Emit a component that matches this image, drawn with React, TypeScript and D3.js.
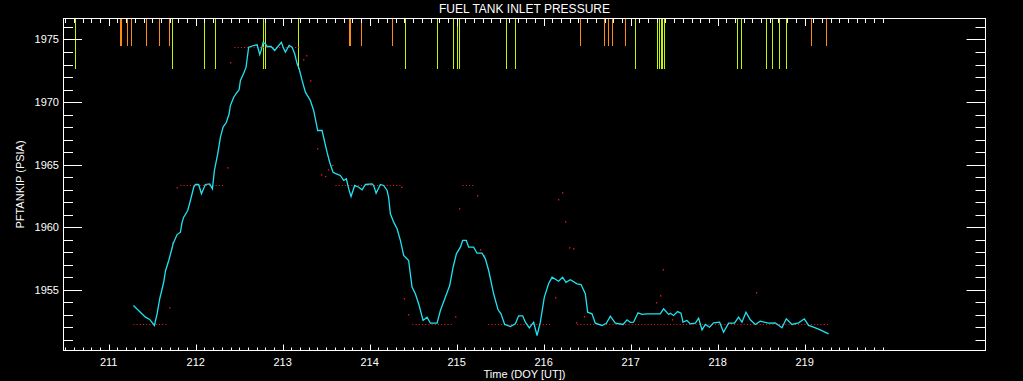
import React from "react";
import * as d3 from "d3";

// ---- data (day-of-year, psia) ----
const cyanSeries: [number, number][] = [
  [211.284, 1953.75], [211.422, 1952.82], [211.471, 1952.64], [211.525, 1952.16], [211.556, 1953.09],
  [211.586, 1954.29], [211.632, 1955.61], [211.652, 1956.49], [211.69, 1957.35], [211.721, 1958.15],
  [211.74, 1958.68], [211.786, 1959.42], [211.824, 1959.61], [211.844, 1960.41], [211.862, 1960.81],
  [211.908, 1961.34], [211.939, 1962.14], [211.977, 1963.2], [211.997, 1963.42], [212.034, 1963.42],
  [212.066, 1962.68], [212.111, 1963.42], [212.161, 1963.47], [212.192, 1963.07], [212.215, 1964.54],
  [212.23, 1965.07], [212.253, 1965.87], [212.284, 1967.2], [212.315, 1968.0], [212.353, 1968.39],
  [212.384, 1969.07], [212.399, 1969.73], [212.437, 1970.39], [212.476, 1970.79], [212.499, 1970.98],
  [212.514, 1971.73], [212.552, 1972.31], [212.579, 1972.79], [212.591, 1973.46], [212.609, 1974.38],
  [212.667, 1974.52], [212.706, 1974.58], [212.736, 1973.8], [212.752, 1974.12], [212.775, 1974.76],
  [212.801, 1974.66], [212.821, 1974.44], [212.867, 1974.44], [212.908, 1974.12], [212.985, 1974.78],
  [213.005, 1974.38], [213.031, 1973.99], [213.074, 1974.52], [213.108, 1974.38], [213.138, 1973.86],
  [213.166, 1973.06], [213.189, 1972.66], [213.223, 1971.73], [213.261, 1970.79], [213.318, 1970.13],
  [213.356, 1969.33], [213.387, 1968.27], [213.402, 1967.73], [213.453, 1967.73], [213.479, 1966.93],
  [213.51, 1966.0], [213.54, 1965.2], [213.579, 1964.4], [213.617, 1964.27], [213.663, 1964.14],
  [213.701, 1963.74], [213.732, 1963.87], [213.759, 1963.07], [213.786, 1962.46], [213.828, 1963.34],
  [213.874, 1963.2], [213.913, 1963.0], [213.951, 1963.42], [214.028, 1963.47], [214.046, 1963.34],
  [214.074, 1962.72], [214.123, 1963.42], [214.161, 1963.34], [214.2, 1962.94], [214.218, 1962.4],
  [214.238, 1961.08], [214.276, 1960.41], [214.315, 1959.88], [214.353, 1958.95], [214.391, 1957.75],
  [214.448, 1957.35], [214.487, 1955.22], [214.525, 1954.69], [214.563, 1953.89], [214.614, 1952.56],
  [214.66, 1952.82], [214.698, 1952.34], [214.775, 1952.34], [214.813, 1953.35], [214.87, 1954.42],
  [214.92, 1955.35], [214.959, 1956.81], [214.997, 1957.88], [215.043, 1958.41], [215.069, 1958.95],
  [215.111, 1958.95], [215.138, 1958.41], [215.195, 1958.41], [215.234, 1957.93], [215.292, 1957.93],
  [215.33, 1957.48], [215.368, 1956.55], [215.425, 1954.69], [215.476, 1953.41], [215.51, 1953.09],
  [215.552, 1952.24], [215.617, 1952.08], [215.675, 1952.29], [215.713, 1952.93], [215.759, 1952.93],
  [215.79, 1952.42], [215.836, 1951.97], [215.885, 1952.42], [215.924, 1951.36], [215.962, 1952.42],
  [216.008, 1954.42], [216.057, 1955.49], [216.097, 1956.01], [216.172, 1955.69], [216.218, 1956.01],
  [216.257, 1955.61], [216.307, 1955.81], [216.384, 1955.49], [216.43, 1955.43], [216.479, 1954.69],
  [216.506, 1953.22], [216.556, 1953.09], [216.594, 1952.34], [216.671, 1952.16], [216.721, 1952.34],
  [216.767, 1952.9], [216.824, 1952.34], [216.913, 1952.24], [216.959, 1952.61], [216.997, 1952.4],
  [217.034, 1952.42], [217.085, 1953.17], [217.131, 1953.04], [217.189, 1953.09], [217.341, 1953.09],
  [217.379, 1953.49], [217.437, 1953.04], [217.456, 1953.14], [217.494, 1952.96], [217.54, 1953.27],
  [217.579, 1953.14], [217.602, 1952.42], [217.648, 1952.56], [217.686, 1952.29], [217.744, 1952.34],
  [217.782, 1952.74], [217.821, 1951.81], [217.859, 1952.24], [217.908, 1952.02], [217.954, 1952.37],
  [218.023, 1952.42], [218.069, 1951.62], [218.126, 1952.34], [218.195, 1952.34], [218.241, 1952.82],
  [218.28, 1952.42], [218.326, 1953.22], [218.376, 1952.61], [218.433, 1952.24], [218.491, 1952.5],
  [218.586, 1952.34], [218.663, 1952.37], [218.74, 1951.97], [218.79, 1952.69], [218.855, 1952.24],
  [218.931, 1952.37], [218.997, 1952.69], [219.046, 1952.16], [219.103, 1952.02], [219.18, 1951.81],
  [219.276, 1951.49],
];

// quantized raw samples: runs of equal value [startDay, endDay, psia]
const redRuns: [number, number, number][] = [
  [211.284, 211.663, 1952.29],
  [214.491, 214.951, 1952.29],
  [215.364, 216.1, 1952.29],
  [216.387, 219.284, 1952.29],
  [211.824, 212.322, 1963.39],
  [213.606, 214.372, 1963.39],
  [215.069, 215.195, 1963.39],
  [212.445, 213.195, 1974.44],
];

const redDots: [number, number][] = [
  [211.701, 1953.57], [211.736, 1958.76], [211.786, 1963.15], [212.368, 1964.75], [212.402, 1973.14],
  [213.241, 1973.38], [213.276, 1973.7], [213.322, 1971.7], [213.402, 1966.27], [213.448, 1964.19],
  [213.494, 1964.06], [213.529, 1964.59], [213.575, 1964.94], [214.368, 1963.2], [214.399, 1954.29],
  [214.448, 1953.01], [214.989, 1952.85], [215.034, 1961.48], [215.241, 1962.52], [215.276, 1958.2],
  [215.322, 1957.72], [216.138, 1954.37], [216.172, 1962.2], [216.218, 1962.76], [216.253, 1960.44],
  [216.299, 1958.36], [216.345, 1958.28], [216.379, 1952.37], [216.471, 1952.85], [217.299, 1953.97],
  [217.345, 1954.53], [217.376, 1956.61], [217.483, 1952.61], [218.448, 1954.77],
];

const orangeEvents: number[] = [
  211.124, 211.136, 211.207, 211.253, 211.425, 211.575, 211.69,
  213.767, 213.779, 213.897, 214.253,
  216.414, 216.69, 216.736, 216.782, 216.931,
  219.069, 219.241,
];

const greenEvents: number[] = [
  210.609, 211.724, 212.092, 212.218, 212.77, 212.793, 213.177,
  214.402, 214.77, 214.954, 215.0, 215.023, 215.563, 215.667,
  217.046, 217.299, 217.322, 217.345, 217.356, 217.379,
  218.218, 218.264, 218.552, 218.621, 218.701, 218.782,
];

const xMajorTicks: number[] = [211, 212, 213, 214, 215, 216, 217, 218, 219];
const yMajorTicks: number[] = [1955, 1960, 1965, 1970, 1975];

const title = "FUEL TANK INLET PRESSURE";
const xTitle = "Time (DOY [UT])";
const yTitle = "PFTANKIP (PSIA)";

// ---- layout ----
const W = 1023;
const H = 381;
const L = 63.5, R = 985.5, T = 18.5, B = 350.5;
const FONT = "'Liberation Sans', Arial, sans-serif";

export default function App() {
  const x = d3.scaleLinear().domain([210.48, 221.08]).range([L, R]);
  const y = d3.scaleLinear().domain([1950.16, 1976.677]).range([B, T]);

  const xMinor = d3.range(2105, 2200).map((v) => v / 10);
  const yMinor = d3.range(1951, 1977);

  const line = d3
    .line<[number, number]>()
    .x((d) => x(d[0]))
    .y((d) => y(d[1]));

  const cyan = "#1fe3f2";
  const orange = "#ff8a10";
  const green = "#c4f500";

  return (
    <svg
      width={W}
      height={H}
      style={{ position: "absolute", left: 0, top: 0, background: "#000" }}
    >
      <rect x={0} y={0} width={W} height={H} fill="#000" />

      {/* event markers */}
      {orangeEvents.map((d, i) => (
        <line key={"o" + i} x1={Math.round(x(d)) + 0.5} x2={Math.round(x(d)) + 0.5} y1={T} y2={46} stroke={orange} strokeWidth={1} />
      ))}
      {greenEvents.map((d, i) => (
        <line key={"g" + i} x1={Math.round(x(d)) + 0.5} x2={Math.round(x(d)) + 0.5} y1={T} y2={69} stroke={green} strokeWidth={1} />
      ))}

      {/* red quantized samples */}
      {redRuns.map((r, i) => (
        <line
          key={"r" + i}
          x1={x(r[0])}
          x2={x(r[1])}
          y1={Math.round(y(r[2])) + 0.5}
          y2={Math.round(y(r[2])) + 0.5}
          stroke="#ff1a1a"
          strokeWidth={1}
          strokeDasharray="1 2.2"
        />
      ))}
      {redDots.map((d, i) => (
        <rect key={"d" + i} x={x(d[0]) - 0.6} y={y(d[1]) - 0.6} width={1.3} height={1.3} fill="#ff1a1a" />
      ))}

      {/* cyan series */}
      <path d={line(cyanSeries) || ""} fill="none" stroke={cyan} strokeWidth={1.3} strokeLinejoin="miter" />

      {/* frame */}
      <rect x={L} y={T} width={R - L} height={B - T} fill="none" stroke="#fff" strokeWidth={1} />

      {/* x ticks */}
      {xMinor.map((v, i) => {
        const px = Math.round(x(v)) + 0.5;
        const major = xMajorTicks.some((m) => Math.abs(m - v) < 1e-6);
        return (
          <g key={"xt" + i}>
            <line x1={px} x2={px} y1={B} y2={B - (major ? 6 : 3)} stroke="#fff" />
            <line x1={px} x2={px} y1={T} y2={T + (major ? 7.5 : 4.5)} stroke="#fff" />
          </g>
        );
      })}
      {xMajorTicks.map((v) => (
        <text key={"xl" + v} x={x(v)} y={366} fill="#fff" fontFamily={FONT} fontSize={11} textAnchor="middle">
          {v}
        </text>
      ))}

      {/* y ticks */}
      {yMinor.map((v) => {
        const py = Math.round(y(v)) + 0.5;
        const major = yMajorTicks.includes(v);
        return (
          <g key={"yt" + v}>
            <line x1={L} x2={L + (major ? 18.5 : 9.5)} y1={py} y2={py} stroke="#fff" />
            <line x1={R} x2={R - (major ? 19 : 10)} y1={py} y2={py} stroke="#fff" />
          </g>
        );
      })}
      {yMajorTicks.map((v) => (
        <text key={"yl" + v} x={59} y={y(v) + 4} fill="#fff" fontFamily={FONT} fontSize={11} textAnchor="end">
          {v}
        </text>
      ))}

      {/* titles */}
      <text x={(L + R) / 2} y={13} fill="#fff" fontFamily={FONT} fontSize={12} textAnchor="middle">
        {title}
      </text>
      <text x={(L + R) / 2} y={378} fill="#fff" fontFamily={FONT} fontSize={11} textAnchor="middle">
        {xTitle}
      </text>
      <text
        transform={`translate(24, ${(T + B) / 2}) rotate(-90)`}
        fill="#fff"
        fontFamily={FONT}
        fontSize={11}
        textAnchor="middle"
      >
        {yTitle}
      </text>
    </svg>
  );
}
